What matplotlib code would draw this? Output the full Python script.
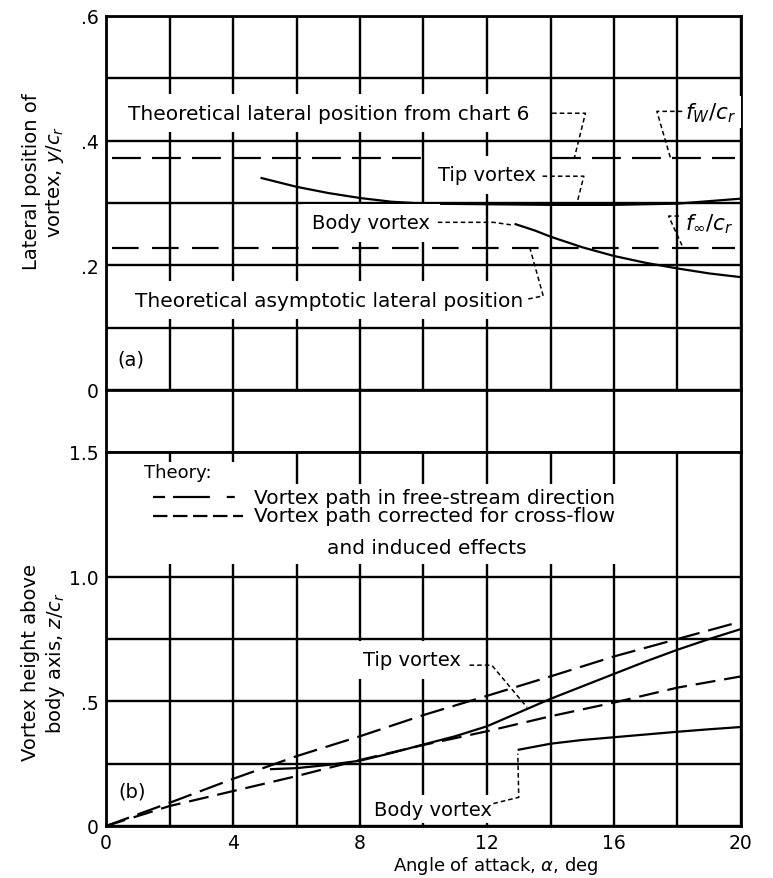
import matplotlib
matplotlib.use("Agg")
import matplotlib.pyplot as plt
from matplotlib.patches import Rectangle

plt.rcParams['font.family'] = ['DejaVu Sans']
plt.rcParams['mathtext.fontset'] = 'dejavusans'

# ---------------- data (a) lateral position ----------------
alpha_tip_a = [4.9, 6, 7, 8, 9, 10, 12, 14, 16, 18, 20]
y_tip_a = [0.340, 0.326, 0.316, 0.308, 0.302, 0.299, 0.298, 0.297, 0.297, 0.299, 0.307]
alpha_body_a = [12.9, 13.5, 14, 15, 16, 17, 18, 19, 20]
y_body_a = [0.266, 0.256, 0.246, 0.229, 0.215, 0.204, 0.195, 0.187, 0.181]
theory_alpha_a = [0.2, 19.8]
fw_cr = 0.372      # theoretical lateral position from chart 6
finf_cr = 0.228    # theoretical asymptotic lateral position

# ---------------- data (b) vertical position ----------------
alpha_free = [0, 2, 4, 6, 8, 10, 12, 14, 16, 18, 20]
z_free = [0, 0.093, 0.189, 0.28, 0.36, 0.445, 0.522, 0.60, 0.68, 0.75, 0.82]
alpha_corr = [0, 2, 4, 6, 8, 10, 12, 14, 16, 18, 20]
z_corr = [0, 0.08, 0.14, 0.20, 0.265, 0.325, 0.38, 0.44, 0.495, 0.555, 0.60]
alpha_tip_b = [5.2, 6, 7, 8, 9, 10, 11, 12, 13, 14, 15, 16, 17, 18, 19, 20]
z_tip_b = [0.228, 0.232, 0.245, 0.262, 0.293, 0.327, 0.36, 0.40, 0.455, 0.51,
           0.56, 0.61, 0.66, 0.707, 0.75, 0.79]
alpha_body_b = [13, 14, 15, 16, 17, 18, 19, 20]
z_body_b = [0.306, 0.33, 0.345, 0.356, 0.367, 0.378, 0.388, 0.397]

x_tick_labels = ['0', '', '4', '', '8', '', '12', '', '16', '', '20']
ya_ticks = [0, 0.1, 0.2, 0.3, 0.4, 0.5, 0.6]
ya_labels = ['0', '', '.2', '', '.4', '', '.6']
yb_ticks = [0, 0.25, 0.5, 0.75, 1.0, 1.5]
yb_labels = ['0', '', '.5', '', '1.0', '1.5']

FS = 13.5       # tick labels
FT = 14.5       # long annotation texts
FV = 14         # vortex labels
GRID_LW = 1.7
LINE_LW = 1.6

W, H = 773, 879
fig = plt.figure(figsize=(W / 100, H / 100), dpi=100)
left = 106 / W
width = (741 - 106) / W


def ax_rect(top_px, bot_px):
    return [left, 1 - bot_px / H, width, (bot_px - top_px) / H]


ax_a = fig.add_axes(ax_rect(17, 391))
ax_m = fig.add_axes(ax_rect(391, 453))
ax_b = fig.add_axes(ax_rect(453, 827))

for ax in (ax_a, ax_m, ax_b):
    ax.set_xlim(0, 20)
    ax.set_axisbelow(True)
    for s in ax.spines.values():
        s.set_linewidth(2.0)
        s.set_color('black')
    ax.tick_params(length=0, labelsize=FS, pad=5)

wb = dict(facecolor='white', edgecolor='none', pad=7)
wb_small = dict(facecolor='white', edgecolor='none', pad=3)
lead = dict(color='black', lw=1.1, ls=(0, (3, 2)))

# ---------- panel (a) ----------
ax_a.set_ylim(0, 0.6)
ax_a.set_xticks(list(range(0, 21, 2)))
ax_a.set_xticklabels([])
ax_a.set_yticks(ya_ticks)
ax_a.set_yticklabels(ya_labels)
ax_a.grid(True, color='black', linewidth=GRID_LW)

ax_a.plot(theory_alpha_a, [fw_cr, fw_cr], color='black', lw=LINE_LW, ls=(0, (13, 5)))
ax_a.plot(theory_alpha_a, [finf_cr, finf_cr], color='black', lw=LINE_LW, ls=(0, (12, 6)))
ax_a.plot(alpha_tip_a, y_tip_a, color='black', lw=LINE_LW)
ax_a.plot(alpha_body_a, y_body_a, color='black', lw=LINE_LW)

ax_a.text(0.7, 0.444, 'Theoretical lateral position from chart 6', fontsize=FT,
          ha='left', va='center', bbox=wb, zorder=5)
ax_a.plot([14.05, 15.1, 14.75], [0.444, 0.444, 0.372], **lead, zorder=6)
ax_a.text(18.25, 0.446, '$f_W/c_r$', fontsize=FT + 1, ha='left', va='center',
          bbox=wb_small, zorder=5)
ax_a.plot([18.15, 17.35, 17.78], [0.447, 0.447, 0.372], **lead, zorder=6)
ax_a.text(10.45, 0.345, 'Tip vortex', fontsize=FV, ha='left', va='center',
          bbox=wb, zorder=5)
ax_a.plot([13.75, 15.05, 14.85], [0.343, 0.343, 0.303], **lead, zorder=6)
ax_a.text(6.5, 0.268, 'Body vortex', fontsize=FV, ha='left', va='center',
          bbox=wb, zorder=5)
ax_a.plot([10.45, 12.2, 12.75], [0.269, 0.269, 0.265], **lead, zorder=6)
ax_a.text(18.25, 0.268, r'$f_\infty/c_r$', fontsize=FT + 1, ha='left', va='center',
          bbox=wb_small, zorder=5)
ax_a.plot([18.05, 17.72, 18.14], [0.279, 0.279, 0.232], **lead, zorder=6)
ax_a.text(0.9, 0.144, 'Theoretical asymptotic lateral position', fontsize=FT,
          ha='left', va='center', bbox=wb, zorder=5)
ax_a.plot([13.3, 13.77, 13.35], [0.146, 0.151, 0.228], **lead, zorder=6)
ax_a.text(0.35, 0.05, '(a)', fontsize=FV, ha='left', va='center')

# ---------- middle band ----------
ax_m.set_ylim(0, 1)
ax_m.set_xticks([4, 8, 12, 16])
ax_m.set_xticklabels([])
ax_m.set_yticks([])
ax_m.grid(True, axis='x', color='black', linewidth=GRID_LW)

# ---------- panel (b) ----------
ax_b.set_ylim(0, 1.5)
ax_b.set_xticks(list(range(0, 21, 2)))
ax_b.set_xticklabels(x_tick_labels)
ax_b.set_yticks(yb_ticks)
ax_b.set_yticklabels(yb_labels)
ax_b.grid(True, color='black', linewidth=GRID_LW)

# white areas under the legend text (grid interrupted there)
ax_b.add_patch(Rectangle((0.45, 1.05), 16.8, 0.32, facecolor='white',
                         edgecolor='none', zorder=1))
ax_b.add_patch(Rectangle((0.45, 1.36), 4.6, 0.10, facecolor='white',
                         edgecolor='none', zorder=1))

ax_b.plot(alpha_free, z_free, color='black', lw=LINE_LW, ls=(0, (11, 4)), zorder=3)
ax_b.plot(alpha_corr, z_corr, color='black', lw=LINE_LW, ls=(0, (9, 4)), zorder=3)
ax_b.plot(alpha_tip_b, z_tip_b, color='black', lw=LINE_LW, zorder=3)
ax_b.plot(alpha_body_b, z_body_b, color='black', lw=LINE_LW, zorder=3)

ax_b.text(1.2, 1.42, 'Theory:', fontsize=13, ha='left', va='center', zorder=5)
ax_b.plot([1.48, 4.1], [1.318, 1.318], color='black', lw=LINE_LW,
          ls=(0, (5.4, 3.6, 16.6, 7.6, 3.6, 30)), zorder=5)
ax_b.text(4.65, 1.318, 'Vortex path in free-stream direction', fontsize=FT,
          ha='left', va='center', zorder=5)
ax_b.plot([1.48, 4.3], [1.244, 1.244], color='black', lw=LINE_LW,
          ls=(0, (6.5, 2.5)), zorder=5)
ax_b.text(4.65, 1.244, 'Vortex path corrected for cross-flow', fontsize=FT,
          ha='left', va='center', zorder=5)
ax_b.text(6.95, 1.117, 'and induced effects', fontsize=FT, ha='left',
          va='center', zorder=5)

ax_b.text(8.1, 0.666, 'Tip vortex', fontsize=FV, ha='left', va='center',
          bbox=wb, zorder=5)
ax_b.plot([11.45, 12.15, 13.26], [0.645, 0.645, 0.476], **lead, zorder=6)
ax_b.text(8.45, 0.068, 'Body vortex', fontsize=FV, ha='left', va='center',
          bbox=wb_small, zorder=5)
ax_b.plot([12.2, 13.0, 12.97], [0.09, 0.115, 0.29], **lead, zorder=6)
ax_b.text(0.4, 0.142, '(b)', fontsize=FV, ha='left', va='center')

# axis labels
fig.text(44 / W, 1 - 182 / H, 'Lateral position of\nvortex, $y/c_r$', rotation=90,
         ha='center', va='center', fontsize=14, linespacing=1.2)
fig.text(44 / W, 1 - 663 / H, 'Vortex height above\nbody axis, $z/c_r$', rotation=90,
         ha='center', va='center', fontsize=14, linespacing=1.2)
fig.text(496 / W, 1 - 866 / H, r'Angle of attack, $\alpha$, deg', ha='center',
         va='center', fontsize=13)

fig.savefig('out.png', dpi=100)
